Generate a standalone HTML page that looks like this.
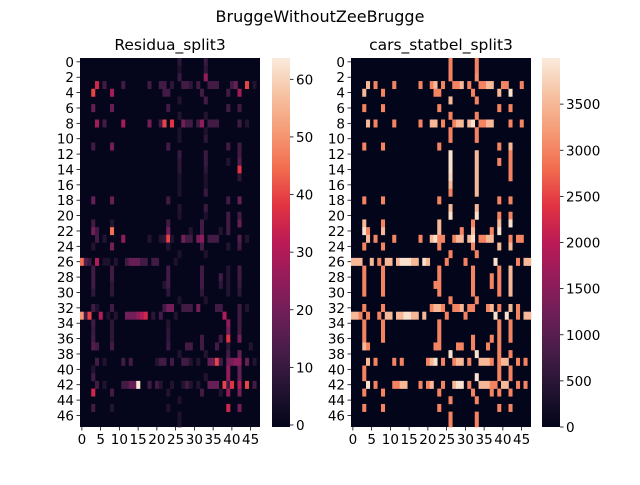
<!DOCTYPE html>
<html><head><meta charset="utf-8"><style>
html,body{margin:0;padding:0;background:#fff;}
svg text{font-family:"DejaVu Sans","Liberation Sans",sans-serif;fill:#000;}
</style></head><body>
<svg id="fig" width="640" height="480" viewBox="0 0 640 480" xmlns="http://www.w3.org/2000/svg">
<defs>
<linearGradient id="rocket" x1="0" y1="1" x2="0" y2="0">
<stop offset="0" stop-color="#03051a"/><stop offset="0.1" stop-color="#221331"/><stop offset="0.2" stop-color="#451c47"/><stop offset="0.3" stop-color="#6b1f57"/><stop offset="0.4" stop-color="#931c5b"/><stop offset="0.5" stop-color="#bb1a55"/><stop offset="0.6" stop-color="#e13342"/><stop offset="0.7" stop-color="#f26c4f"/><stop offset="0.8" stop-color="#f59a75"/><stop offset="0.9" stop-color="#f6c2a2"/><stop offset="1" stop-color="#faebdd"/>
</linearGradient>
</defs>
<text x="320" y="22" font-size="16" text-anchor="middle">BruggeWithoutZeeBrugge</text>
<g id="left"></g>
<g id="right"></g>
</svg>
<script>
const nCats = 48;
const leftTitle = "Residua_split3";
const rightTitle = "cars_statbel_split3";
const leftCbarTicks = [0,10,20,30,40,50,60];
const rightCbarTicks = [0,500,1000,1500,2000,2500,3000,3500];
const leftRange = [-0.35, 63.7];
const rightRange = [0, 4000];
const yTickLabels = [0,2,4,6,8,10,12,14,16,18,20,22,24,26,28,30,32,34,36,38,40,42,44,46];
const xTickLabels = [0,5,10,15,20,25,30,35,40,45];
const rightRows = [
"26:3000 33:3000","26:3000 33:3000","26:3000 33:3100",
"4:3500 6:3000 11:3000 18:3000 21:3000 22:3500 24:3000 27:3000 28:3000 29:3500 31:3000 34:3000 35:3000 36:3500 37:3500 40:3000 41:3000 45:3000",
"3:3500 8:3000 22:3000 23:3000 32:3000 39:3500 42:3900",
"26:3500 33:3000",
"3:3000 8:3000 23:3000 39:3000 42:3000",
"26:3000 33:3000",
"4:3500 6:3000 11:3000 18:3000 21:3500 22:3500 24:3000 27:3000 28:3500 29:3500 31:3500 32:3900 34:3000 35:3000 36:3500 37:3500 42:3000 45:3000",
"26:3000 33:3000","26:3000 33:3000",
"3:3000 8:3000 23:3000 39:3000 42:3500",
"26:3900 33:3500 42:3000","26:3900 33:3500 39:3000 42:3000","26:3900 33:3500 42:3000","26:3800 33:3500 42:3000",
"26:3500 33:3500","26:3000 33:3500",
"3:3000 8:3000 23:3000 39:3000 42:3000",
"26:3500 33:3500","26:3900 33:3900 39:3000 42:3000",
"3:3500 8:3000 23:3500 32:3000 39:3500 42:3900",
"3:3900 4:3000 8:3500 23:3500 29:3000 32:3500 37:3000 39:3900",
"4:3500 6:3000 11:3000 18:3000 21:3500 22:3900 23:3000 24:3000 27:3000 28:3500 29:3500 31:3500 32:3900 34:3000 35:3000 36:3500 37:3500 42:3000 44:3000 45:3000",
"3:3000 8:3000 23:3000 32:3000 39:3500 42:3500",
"26:3000 33:3000",
"0:3500 1:3500 2:3500 5:3500 7:3000 9:3500 10:3500 12:3500 13:3900 14:3900 15:3900 16:3500 17:3500 19:3900 20:3500 25:3000 30:3000 38:3900 44:3000 46:3500 47:3500",
"3:3000 8:3000 23:3000 32:3000 39:3000 42:3500",
"3:3000 8:3000 23:3000 32:3000 37:3000 39:3000 42:3500",
"3:3000 8:3000 22:3000 23:3000 32:3000 37:3000 39:3000 42:3500",
"3:3000 8:3000 23:3000 32:3000 39:3000 42:3500",
"26:3000 33:3000",
"3:3000 8:3000 21:3000 22:3500 23:3500 24:3000 27:3000 28:3000 29:3500 31:3000 32:3000 36:3000 37:3500 39:3000 42:3500 44:3000",
"0:3500 1:3500 2:3000 4:3000 7:3000 9:3500 10:3500 12:3500 13:3500 14:3900 15:3900 16:3500 17:3500 19:3500 25:3000 30:3000 38:3900 41:3900 44:3000 46:3500 47:3500",
"3:3000 8:3000 23:3000 39:3000 42:3000","3:3000 8:3000 23:3000 39:3000 42:3000",
"3:3000 8:3000 23:3000 32:3000 37:3000 39:3000 42:3000",
"3:3500 4:3000 22:3000 23:3000 28:3000 29:3000 32:3000 36:3000 39:3000",
"26:3900 33:3900 39:3000 42:3000",
"4:3500 6:3000 11:3000 13:3000 20:3000 21:3500 22:3900 24:3000 27:3000 28:3500 29:3500 31:3000 34:3500 35:3500 36:3500 37:3000 39:3000 40:3500 41:3500 44:3000 46:3000",
"3:3000 39:3000 42:3000",
"3:3000 33:3900 39:3000 42:3000",
"4:3900 6:3000 11:3000 12:3000 13:3500 14:3500 18:3000 20:3000 21:3500 24:3000 27:3500 28:3900 29:3900 31:3000 34:3500 35:3500 36:3500 37:3000 38:3000 40:3500 41:3500 44:3000 46:3000",
"3:3000 8:3000 23:3000 32:3000 37:3000 39:3000 42:3000",
"26:3000 33:3000",
"3:3000 8:3000 23:3000 39:3000 42:3000",
"26:3000 33:3000","26:3000 33:3000"
];
const leftRows = [
"26:8 33:10","26:5 33:8","26:10 33:25",
"4:35 6:12 11:12 18:12 21:12 22:12 24:8 27:12 28:12 29:8 31:12 34:12 35:12 36:12 40:12 41:18 44:40 46:6",
"3:40 8:28 22:12 23:12 32:12 39:12 42:28",
"26:6 33:12",
"3:18 8:18 23:12 39:12 42:12",
"26:6 33:6",
"4:28 6:12 11:28 18:20 21:12 22:40 24:38 27:20 28:12 29:12 31:12 32:25 34:12 35:12 36:12 42:12 44:6",
"26:5 33:5","26:5 33:8",
"3:12 8:20 23:12 39:12 42:12",
"26:10 33:10 42:12","26:8 33:10 39:6 42:15","26:8 33:8 42:38","26:5 33:5 42:8",
"26:5 33:5","26:5 33:10",
"3:18 8:18 23:12 39:12 42:18",
"26:6 33:10","26:5 33:5 39:12 42:12",
"3:12 8:6 23:12 32:12 39:12 42:18",
"3:20 4:12 8:45 23:20 29:6 32:12 37:6 39:12",
"4:12 6:6 11:25 18:6 21:6 22:8 23:40 24:6 27:20 28:12 29:12 31:20 32:25 34:12 35:12 36:12 42:15 44:6",
"3:6 8:20 23:6 32:12 39:6 42:12",
"26:5 33:5",
"0:45 1:15 2:10 4:30 6:5 7:5 9:6 12:12 13:18 14:18 15:18 16:12 17:12 19:12 20:12 25:5",
"3:12 8:12 23:12 32:12 39:6 42:12",
"3:12 8:12 23:12 32:12 37:12 39:6 42:12",
"3:12 8:8 22:6 23:12 32:12 37:8 39:6 42:10",
"3:8 8:8 23:8 32:8 39:6 42:8",
"26:5 33:5",
"3:12 4:5 8:12 22:12 23:20 24:20 27:12 28:12 29:12 31:20 36:12 37:12 42:12 44:6",
"0:50 1:12 2:40 5:30 7:5 9:6 12:20 13:20 14:20 15:25 16:30 17:35 19:8 21:12 25:6 38:30 42:12",
"3:12 8:8 23:6 39:25 42:12",
"3:10 8:8 23:8 39:20 42:12",
"3:12 8:8 23:8 32:12 37:12 39:38 42:20",
"3:15 4:12 8:12 23:10 28:12 29:12 32:12 36:12 39:8 45:6",
"26:6 33:6 39:12 42:18",
"4:12 6:6 11:12 13:12 20:6 21:12 22:12 24:12 27:12 28:12 29:6 31:6 34:18 35:18 36:40 37:12 39:20 40:20 41:25 42:25 44:18 46:6",
"3:6 39:25 42:18",
"3:12 33:6 39:25 42:18",
"4:12 6:6 11:12 12:12 13:18 14:18 15:63 18:12 20:12 21:6 24:6 27:6 28:12 29:6 31:6 34:18 35:18 36:18 38:40 39:12 40:38 42:30 44:40 46:12",
"3:35 8:12 23:6 32:12 37:6 39:25 42:20",
"26:5",
"3:12 8:6 23:6 39:35 42:20",
"26:5","26:5"
];

const NS = "http://www.w3.org/2000/svg";
const stops = [[0,[3,5,26]],[.1,[34,19,49]],[.2,[69,28,71]],[.3,[107,31,87]],[.4,[147,28,91]],[.5,[187,26,85]],[.6,[225,51,66]],[.7,[242,108,79]],[.8,[245,154,117]],[.9,[246,194,162]],[1,[250,235,221]]];
function cmap(t){
  t = Math.max(0, Math.min(1, t));
  for (let i = 1; i < stops.length; i++) {
    if (t <= stops[i][0]) {
      const a = stops[i-1], b = stops[i], f = (t - a[0]) / (b[0] - a[0]);
      const c = a[1].map((v, k) => Math.round(v + (b[1][k] - v) * f));
      return "rgb(" + c.join(",") + ")";
    }
  }
  return "rgb(250,235,221)";
}
function mk(tag, attrs, parent){
  const e = document.createElementNS(NS, tag);
  for (const k in attrs) e.setAttribute(k, attrs[k]);
  parent.appendChild(e);
  return e;
}
function parseRow(s){
  const m = {};
  s.split(" ").forEach(p => { if (p) { const q = p.split(":"); m[+q[0]] = +q[1]; } });
  return m;
}
function drawPanel(g, rows, range, cbTicks, x0, title, cbx){
  const x1 = x0 + 180, y0 = 58, y1 = 427;
  const cw = (x1 - x0) / nCats, ch = (y1 - y0) / nCats;
  const xs = c => x0 + c * cw;
  const ys = r => y0 + r * ch;
  const vs = v => (v - range[0]) / (range[1] - range[0]);
  const t = mk("text", {x: (x0 + x1) / 2, y: 50, "font-size": 15.5, "text-anchor": "middle"}, g);
  t.textContent = title;
  
  
  const bg = mk("rect", {x: x0, y: y0, width: x1 - x0, height: y1 - y0, fill: cmap(vs(0))}, g);
  
  
  rows.forEach((s, r) => {
    const m = parseRow(s);
    for (const c in m) {
      const cell = mk("rect", {x: xs(+c).toFixed(2), y: ys(r).toFixed(2), width: (cw + 0.3).toFixed(2), height: (ch + 0.3).toFixed(2), fill: cmap(vs(m[c]))}, g);
      
      
    }
  });
  yTickLabels.forEach(v => {
    const y = ys(v + 0.5);
    mk("line", {x1: x0 - 3.5, x2: x0, y1: y, y2: y, stroke: "#000", "stroke-width": 0.8}, g);
    const tl = mk("text", {x: x0 - 6, y: y + 5, "font-size": 13.5, "text-anchor": "end"}, g);
    tl.textContent = v;
    
    
  });
  xTickLabels.forEach(v => {
    const x = xs(v + 0.5);
    mk("line", {x1: x, x2: x, y1: y1, y2: y1 + 3.5, stroke: "#000", "stroke-width": 0.8}, g);
    const tl = mk("text", {x: x, y: y1 + 17, "font-size": 13.5, "text-anchor": "middle"}, g);
    tl.textContent = v;
    
    
  });
  const cb = mk("rect", {x: cbx, y: y0, width: 18, height: y1 - y0, fill: "url(#rocket)"}, g);
  
  
  cbTicks.forEach(v => {
    const y = y1 - vs(v) * (y1 - y0);
    mk("line", {x1: cbx + 18, x2: cbx + 21.5, y1: y, y2: y, stroke: "#000", "stroke-width": 0.8}, g);
    const tl = mk("text", {x: cbx + 24, y: y + 5, "font-size": 13.5}, g);
    tl.textContent = v;
    
    
  });
}
drawPanel(document.getElementById("left"), leftRows, leftRange, leftCbarTicks, 80, leftTitle, 272);
drawPanel(document.getElementById("right"), rightRows, rightRange, rightCbarTicks, 351, rightTitle, 542);
</script>
</body></html>
